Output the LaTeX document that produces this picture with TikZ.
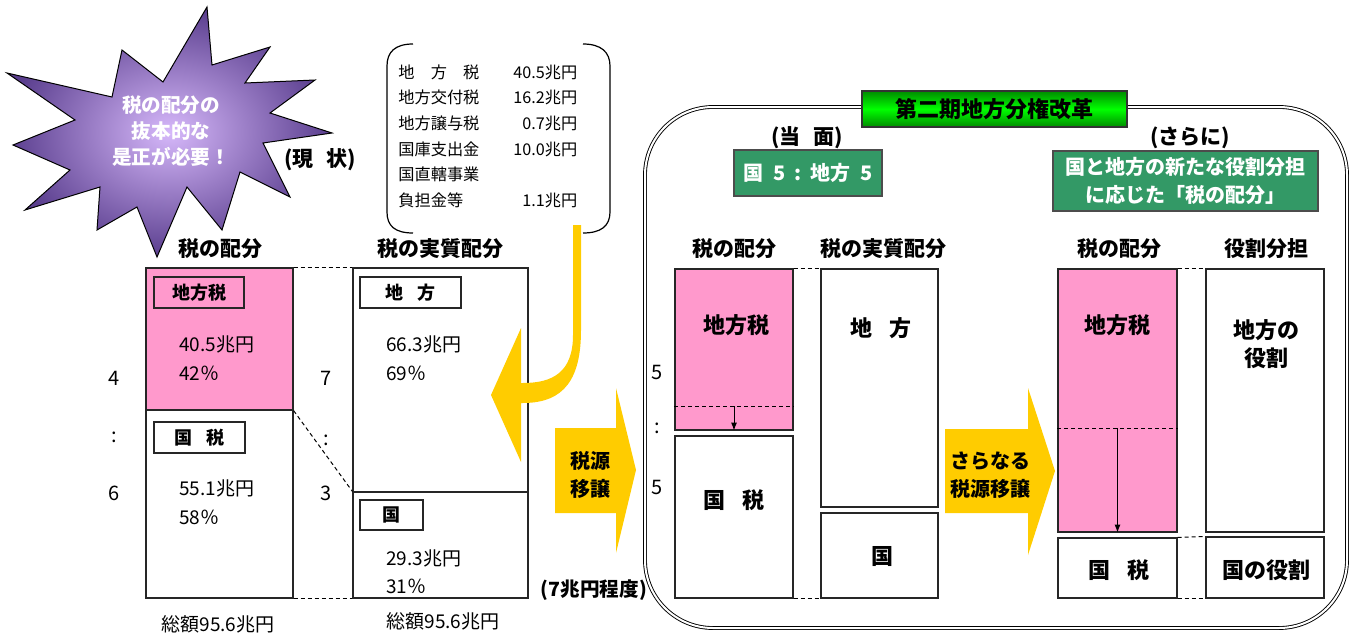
\documentclass[tikz,border=0pt]{standalone}
\usepackage{fontspec}
\newfontfamily\jp{Noto Sans CJK JP}
\usetikzlibrary{arrows.meta}
\definecolor{zeipink}{HTML}{FF99CC}
\definecolor{zeigreen}{HTML}{339966}
\definecolor{zeiyellow}{HTML}{FFCC00}
\definecolor{starin}{HTML}{D6B8FA}
\definecolor{starout}{HTML}{5A3E8E}
\begin{document}
\begin{tikzpicture}[x=0.5pt,y=-0.5pt,
    colbox/.style={draw=black!85,line width=0.6pt,inner sep=0pt},
    pinkbox/.style={colbox,fill=zeipink},
    tag/.style={draw=black!85,line width=0.6pt,inner sep=0pt,font=\jp\bfseries\fontsize{9}{10}\selectfont},
    hdr/.style={font=\jp\bfseries\fontsize{10.5}{12}\selectfont},
    val/.style={anchor=west,inner sep=0pt,font=\jp\fontsize{9.5}{11}\selectfont},
    ratio/.style={inner sep=0pt,font=\jp\fontsize{10}{11}\selectfont},
    big/.style={align=center,font=\jp\bfseries\fontsize{11}{14}\selectfont},
    greenbox/.style={fill=zeigreen,draw=black!70,line width=0.6pt,text=white,align=center,inner sep=0pt,font=\jp\bfseries\fontsize{10}{14}\selectfont},
    yeltext/.style={align=center,font=\jp\bfseries\fontsize{10}{14}\selectfont},
    gap/.style={dash pattern=on 2pt off 1.5pt,line width=0.5pt}]
    \useasboundingbox (0,0) rectangle (1355,637);

    % starburst
    \shadedraw[inner color=starin,outer color=starout,draw=black,line width=0.5pt]
        (207,7) -- (212,65) -- (270,47) -- (245,83) -- (315,80) -- (270,113) -- (332,133)
        -- (263,143) -- (290,197) -- (240,172) -- (222,230) -- (187,187) -- (157,257)
        -- (137,207) -- (97,230) -- (100,187) -- (25,210) -- (70,170) -- (13,145)
        -- (75,120) -- (7,73) -- (112,97) -- (122,50) -- (163,82) -- cycle;
    \node (hitsuyo) at (171,131) [align=center,text=white,font=\jp\bfseries\fontsize{9.8}{13}\selectfont] {税の配分の\\抜本的な\\是正が必要！};
    \node (genjo) at (320,160) [hdr] {(現\hspace{0.6em}状)};

    % callout
    \draw[line width=0.6pt] (413,44) .. controls (395,44) and (387,52) .. (387,66) -- (387,212) .. controls (387,226) and (395,233) .. (413,233);
    \draw[line width=0.6pt] (583,44) .. controls (601,44) and (610,52) .. (610,66) -- (610,212) .. controls (610,226) and (601,233) .. (583,233);
    \node (uchiwake) at (398,60) [anchor=north west,inner sep=0pt,font=\jp\fontsize{8.1}{12.8}\selectfont]
        {\begin{tabular}{@{}l@{\hspace{17pt}}r@{}}
        地　方　税 & 40.5兆円\\
        地方交付税 & 16.2兆円\\
        地方譲与税 & 0.7兆円\\
        国庫支出金 & 10.0兆円\\
        国直轄事業 & \\
        負担金等 & 1.1兆円
        \end{tabular}};

    % current state
    \node (h1) at (220,249) [hdr] {税の配分};
    \node (h2) at (440,249) [hdr] {税の実質配分};
    \node (lchi) at (219.5,339) [pinkbox,minimum width=73.5pt,minimum height=71pt] {};
    \node (lkoku) at (219.5,504) [colbox,minimum width=73.5pt,minimum height=94pt] {};
    \node (rchi) at (440.5,380) [colbox,minimum width=87.5pt,minimum height=112pt] {};
    \node (rkoku) at (440.5,545) [colbox,minimum width=87.5pt,minimum height=53pt] {};
    \node (tagchi) at (199,292.5) [tag,fill=zeipink,minimum width=45pt,minimum height=15.5pt] {地方税};
    \node (tagkoku) at (199.5,437.5) [tag,fill=white,minimum width=45.5pt,minimum height=15.5pt] {国\hspace{0.8em}税};
    \node (tagchiho) at (410.5,292.5) [tag,minimum width=50.5pt,minimum height=15.5pt] {地\hspace{0.8em}方};
    \node (tagkuni) at (391.5,515) [tag,minimum width=31.5pt,minimum height=15pt] {国};
    \node (v1) at (179,344) [val] {40.5兆円};
    \node (p1) at (179,373) [val] {42％};
    \node (v2) at (179,488) [val] {55.1兆円};
    \node (p2) at (179,517) [val] {58％};
    \node (v3) at (386,344) [val] {66.3兆円};
    \node (p3) at (386,373) [val] {69％};
    \node (v4) at (386,558) [val] {29.3兆円};
    \node (p4) at (386,586) [val] {31％};
    \node (r4) at (114,378) [ratio] {4};
    \node (r4c) at (114,437) [ratio] {:};
    \node (r6) at (114,493) [ratio] {6};
    \node (r7) at (326,378) [ratio] {7};
    \node (r7c) at (326,440) [ratio] {:};
    \node (r3) at (326,493) [ratio] {3};
    \draw[gap] (lchi.north east) -- (rchi.north west);
    \draw[gap] (lkoku.south east) -- (rkoku.south west);
    \draw[gap] (lchi.south east) -- (rkoku.north west);
    \node (sum1) at (218,624) [font=\jp\fontsize{9.5}{11}\selectfont] {総額95.6兆円};
    \node (sum2) at (443,621) [font=\jp\fontsize{9.5}{11}\selectfont] {総額95.6兆円};
    \node (nana) at (594,590) [font=\jp\bfseries\fontsize{9.8}{11}\selectfont] {(7兆円程度)};

    % yellow arrows
    \fill[zeiyellow] (573,225) -- (573,335) .. controls (573,372) and (553,383) .. (523,383) -- (521,383)
        -- (521,328) -- (491,395) -- (521,462) -- (521,403) -- (523,403)
        .. controls (565,403) and (581,378) .. (581,330) -- (581,225) -- cycle;
    \fill[zeiyellow] (555,428) -- (616,428) -- (616,388) -- (636,470) -- (616,553) -- (616,513) -- (555,513) -- cycle;
    \node (iso1) at (590,475) [yeltext] {税源\\移譲};

    % second reform
    \draw[double,double distance=1pt,line width=0.45pt,rounded corners=34pt] (645,107) rectangle (1347,628);
    \node (dai2) at (994.5,109) [draw=black!80,line width=0.6pt,top color=green!55!black,bottom color=green!55!black,middle color=green,
        minimum width=132.5pt,minimum height=18pt,inner sep=0pt,font=\jp\bfseries\fontsize{11}{13}\selectfont] {第二期地方分権改革};
    \node (toumen) at (807,138) [hdr] {(当\hspace{0.6em}面)};
    \node (sarani) at (1190,138) [hdr] {(さらに)};
    \node (gohan) at (808,173) [greenbox,minimum width=74pt,minimum height=23pt] {国\hspace{0.5em}5\hspace{0.45em}:\hspace{0.45em}地方\hspace{0.5em}5};
    \node (yakuwari) at (1185.5,181) [greenbox,minimum width=132.5pt,minimum height=30pt] {国と地方の新たな役割分担\\に応じた「税の配分」};
    \node (h3) at (734,249) [hdr] {税の配分};
    \node (h4) at (883,249) [hdr] {税の実質配分};
    \node (h5) at (1119,249) [hdr] {税の配分};
    \node (h6) at (1266,249) [hdr] {役割分担};

    \node (ra) at (734,349.5) [pinkbox,minimum width=59pt,minimum height=80.5pt] {};
    \node (rb) at (734,517) [colbox,minimum width=59pt,minimum height=81pt] {};
    \node (rc) at (879.5,388) [colbox,minimum width=58.5pt,minimum height=119pt] {};
    \node (rd) at (879.5,555.5) [colbox,minimum width=58.5pt,minimum height=42.5pt] {};
    \node (re) at (1117.5,400.5) [pinkbox,minimum width=59.5pt,minimum height=131.5pt] {};
    \node (rf) at (1117.5,568) [colbox,minimum width=59.5pt,minimum height=30pt] {};
    \node (rg) at (1265,400.5) [colbox,minimum width=59pt,minimum height=131.5pt] {};
    \node (rh) at (1265,567.5) [colbox,minimum width=59pt,minimum height=30.5pt] {};
    \draw[gap] (ra.north east) -- (rc.north west);
    \draw[gap] (rb.south east) -- (rd.south west);
    \draw[gap] (re.north east) -- (rg.north west);
    \draw[gap] (rf.north east) -- (rh.north west);
    \draw[gap] (rf.south east) -- (rh.south west);

    \coordinate (adash) at (734,406);
    \draw[gap] (ra.west |- adash) -- (ra.east |- adash);
    \draw[line width=0.5pt,-{Latex[length=4pt,width=3pt]}] (adash) -- (ra.south);
    \coordinate (edash) at (1117.5,428);
    \draw[gap] (re.west |- edash) -- (re.east |- edash);
    \draw[line width=0.5pt,-{Latex[length=4pt,width=3pt]}] (edash) -- (re.south);

    \node (t1) at (736,325) [big] {地方税};
    \node (t2) at (734,500) [big] {国\hspace{0.8em}税};
    \node (t3) at (881,328) [big] {地\hspace{0.8em}方};
    \node (t4) at (882,557) [big] {国};
    \node (t5) at (1117,325) [big] {地方税};
    \node (t6) at (1119,570) [big] {国\hspace{0.8em}税};
    \node (t7) at (1266,344) [big] {地方の\\役割};
    \node (t8) at (1266,570) [big] {国の役割};
    \node (r5a) at (657,372) [ratio] {5};
    \node (r5c) at (657,428) [ratio] {:};
    \node (r5b) at (657,487) [ratio] {5};

    \fill[zeiyellow] (945,429) -- (1028,429) -- (1028,388) -- (1055,471) -- (1028,555) -- (1028,513) -- (945,513) -- cycle;
    \node (iso2) at (990,475) [yeltext] {さらなる\\税源移譲};
\end{tikzpicture}
\end{document}
